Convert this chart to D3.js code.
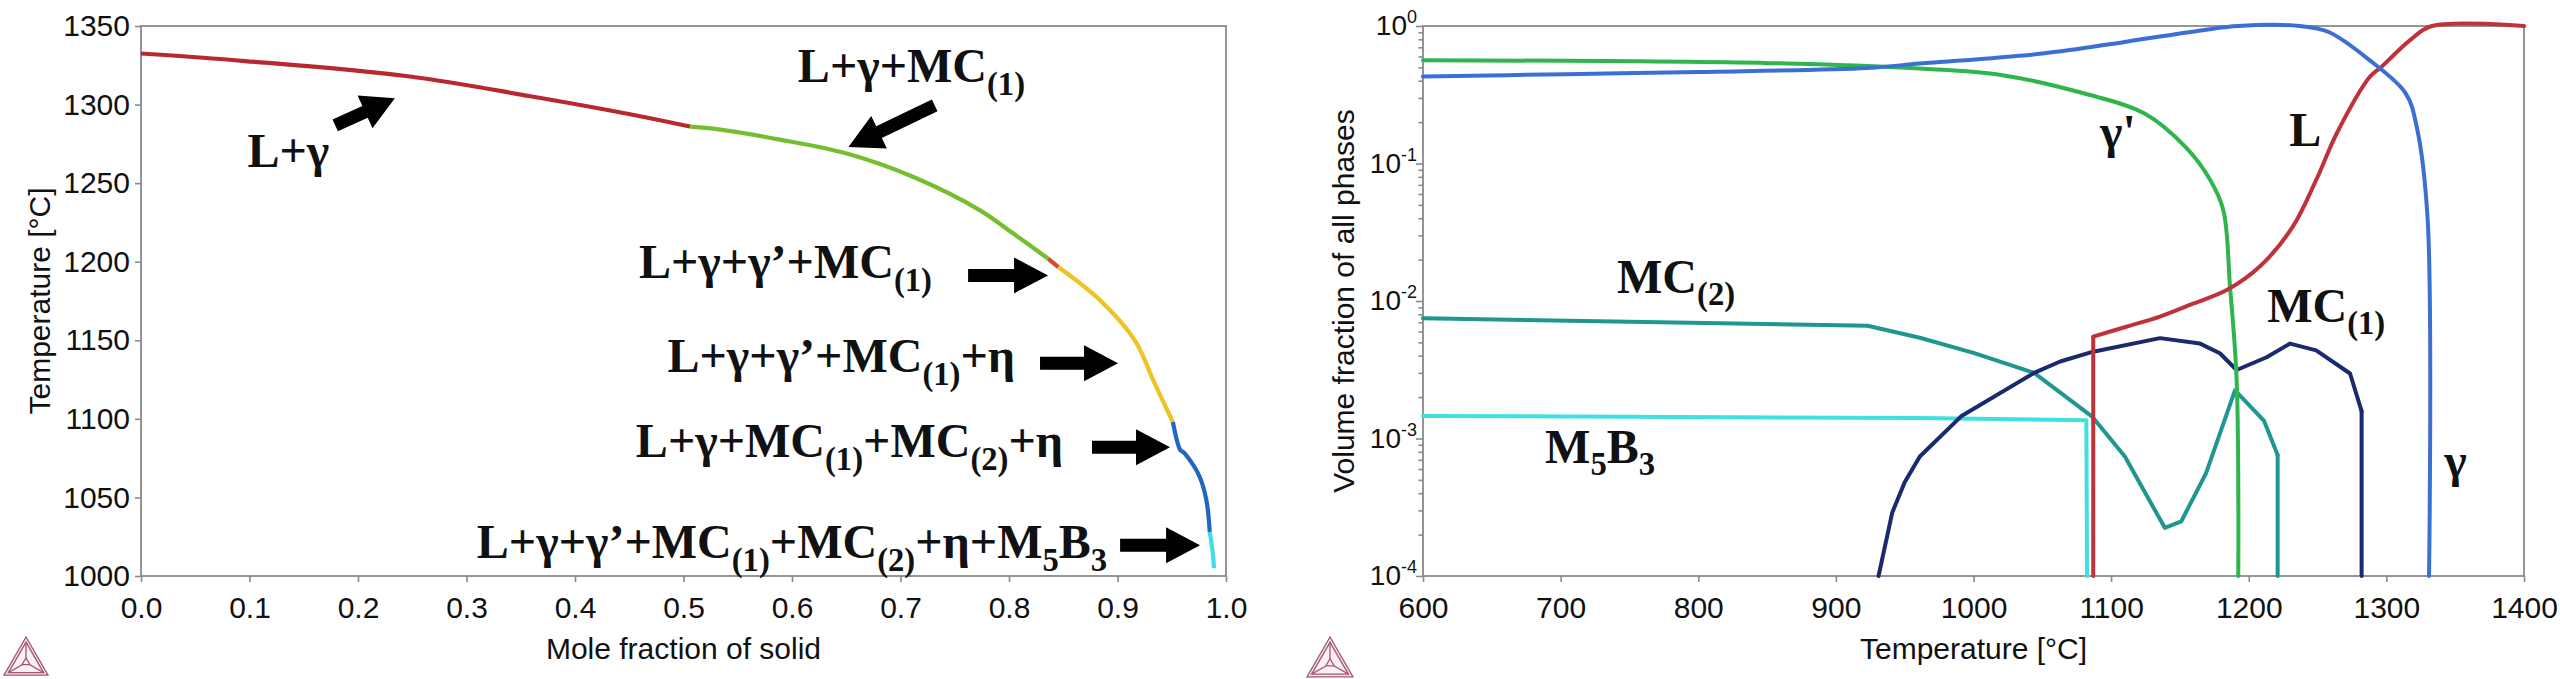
<!DOCTYPE html>
<html>
<head>
<meta charset="utf-8">
<script src="https://cdn.jsdelivr.net/npm/d3@7"></script>
<style>
  html, body { margin: 0; padding: 0; background: #fff; }
  svg { display: block; }
</style>
</head>
<body>
<div id="chart"></div>
<script>
// ---------- left panel: solidification path ----------
const pathRegions = ["L+γ", "L+γ+MC(1)", "L+γ+γ'+MC(1)", "L+γ+γ'+MC(1)+η", "L+γ+MC(1)+MC(2)+η", "L+γ+γ'+MC(1)+MC(2)+η+M5B3"];
const pathFs = [
    [0, 0.096, 0.246, 0.359, 0.46, 0.506],
    [0.506, 0.5276, 0.589, 0.6505, 0.7119, 0.7733, 0.804, 0.836],
    [0.836, 0.8455],
    [0.8455, 0.884, 0.916, 0.933, 0.943, 0.951],
    [0.951, 0.958, 0.9604, 0.968, 0.9758, 0.982, 0.985],
    [0.985, 0.9875, 0.989]
];
const pathT = [
    [1332.5, 1327.7, 1318, 1305.3, 1292.6, 1286],
    [1286, 1284.7, 1277.7, 1268.8, 1253.9, 1232.7, 1217.9, 1202],
    [1202, 1196.6],
    [1196.6, 1175.4, 1150, 1124.5, 1109.7, 1098],
    [1098, 1080, 1079, 1072.5, 1063, 1048, 1028],
    [1028, 1016.4, 1005]
];
const fsTicks = [0, 0.1, 0.2, 0.3, 0.4, 0.5, 0.6, 0.7, 0.8, 0.9, 1.0];
const tTicks = [1000, 1050, 1100, 1150, 1200, 1250, 1300, 1350];

// annotations (data units)
const regionLabels = ["L+γ", "L+γ+MC{(1)}", "L+γ+γ’+MC{(1)}", "L+γ+γ’+MC{(1)}+η", "L+γ+MC{(1)}+MC{(2)}+η", "L+γ+γ’+MC{(1)}+MC{(2)}+η+M{5}B{3}"];
const labelEndFs = [0.1735, 0.8148, 0.729, 0.8056, 0.8498, 0.8904];
const labelT = [1260.3, 1314.2, 1189.4, 1129.7, 1075.6, 1011.3];
const arrowFromFs = [0.179, 0.7315, 0.7623, 0.8286, 0.8765, 0.9024];
const arrowFromT = [1286.8, 1299.5, 1191.3, 1135.4, 1081.9, 1019.5];
const arrowToFs = [0.234, 0.652, 0.836, 0.9005, 0.9484, 0.9761];
const arrowToT = [1304, 1273, 1191.3, 1135.4, 1081.9, 1019.5];

// ---------- right panel: phase fractions ----------
const tempGamma = [600, 704, 800, 923, 961, 1050, 1110, 1169, 1192, 1237, 1258, 1288, 1314, 1322, 1330, 1331];
const fracGamma = [0.43, 0.446, 0.463, 0.495, 0.533, 0.63, 0.766, 0.94, 1.0, 1.0, 0.904, 0.562, 0.324, 0.186, 0.039, 0.0001];
const tempGammaP = [600, 852, 961, 1021, 1080, 1124, 1154, 1172, 1181.5, 1186.4, 1191.2, 1192.4];
const fracGammaP = [0.564, 0.537, 0.49, 0.439, 0.324, 0.232, 0.132, 0.0759, 0.0459, 0.0127, 0.00266, 0.0001];
const tempLiquid = [1087, 1087, 1111, 1135.5, 1160, 1184, 1208, 1232, 1249, 1264, 1288, 1296, 1317, 1333, 1400];
const fracLiquid = [0.0001, 0.0055, 0.0065, 0.0077, 0.0096, 0.012, 0.0178, 0.0347, 0.0759, 0.166, 0.427, 0.5, 0.787, 1.0, 1.0];
const tempMC2 = [600, 923, 961, 1000, 1044, 1086, 1110, 1139, 1151, 1169, 1190, 1211, 1221, 1221];
const fracMC2 = [0.0075, 0.0066, 0.0054, 0.0042, 0.003, 0.00145, 0.00074, 0.000224, 0.00025, 0.00056, 0.00224, 0.00135, 0.00076, 0.0001];
const tempMC1 = [931, 941, 950, 961, 991, 1044, 1063, 1087, 1135.5, 1164.6, 1179, 1191.2, 1213, 1230, 1249, 1273.6, 1282, 1282];
const fracMC1 = [0.0001, 0.00029, 0.00048, 0.00074, 0.00145, 0.003, 0.00363, 0.00428, 0.00537, 0.0049, 0.00417, 0.00315, 0.0039, 0.0049, 0.00437, 0.00297, 0.00158, 0.0001];
const tempM5B3 = [600, 961, 1082, 1082.5];
const fracM5B3 = [0.00146, 0.00141, 0.00136, 0.0001];
const tempTicks = [600, 700, 800, 900, 1000, 1100, 1200, 1300, 1400];
const decadeExp = [-4, -3, -2, -1, 0];

const phaseLabels = ["γ'", "L", "MC{(1)}", "γ", "MC{(2)}", "M{5}B{3}"];
const phaseLabelT = [1092, 1229.4, 1213.4, 1342, 741, 688.7];
const phaseLabelF = [0.129, 0.134, 0.00706, 0.000527, 0.0114, 0.000664];

// ---------- drawing ----------
const W = 2560, H = 679;
const sans = "'Liberation Sans', Arial, sans-serif";
const serif = "'Liberation Serif', 'Times New Roman', serif";
const frameColor = "#8a8a8a";

const svg = d3.select("#chart").append("svg")
    .attr("width", W)
    .attr("height", H)
    .style("background", "#fff");

const xL = d3.scaleLinear().domain([0, 1]).range([141, 1226]);
const yL = d3.scaleLinear().domain([1000, 1350]).range([576, 26]);
const xR = d3.scaleLinear().domain([600, 1400]).range([1423, 2524]);
const yR = d3.scaleLog().domain([1e-4, 1]).range([576, 26]);

function styleAxis(g) {
    g.select(".domain").remove();
    g.selectAll(".tick line").attr("stroke", frameColor).attr("stroke-width", 1.6);
    g.selectAll(".tick text").attr("fill", "#111").style("font-family", sans).style("font-size", "30px");
}

function frame(x, y) {
    svg.append("rect")
        .attr("x", x.range()[0]).attr("y", y.range()[1])
        .attr("width", x.range()[1] - x.range()[0])
        .attr("height", y.range()[0] - y.range()[1])
        .attr("fill", "none")
        .attr("stroke", frameColor)
        .attr("stroke-width", 1.8);
}

// rich text: {..} marks subscript
function richText(g, str, size, subShift) {
    const parts = str.split(/(\{[^}]*\})/).filter(s => s.length);
    let shifted = false;
    parts.forEach(p => {
        const isSub = p[0] === "{";
        const t = g.append("tspan").text(isSub ? p.slice(1, -1) : p);
        if (isSub) {
            t.attr("font-size", size * 0.68).attr("dy", shifted ? 0 : subShift);
            shifted = true;
        } else {
            if (shifted) t.attr("dy", -subShift);
            shifted = false;
        }
    });
}

function blockArrow(p1, p2) {
    const dx = p2[0] - p1[0], dy = p2[1] - p1[1];
    const len = Math.hypot(dx, dy);
    const hl = Math.min(34, len * 0.5), sw = 6.5, hw = 18;
    const pts = [[0, -sw], [len - hl, -sw], [len - hl, -hw], [len, 0], [len - hl, hw], [len - hl, sw], [0, sw]];
    const ang = Math.atan2(dy, dx) * 180 / Math.PI;
    svg.append("polygon")
        .attr("points", pts.map(p => p.join(",")).join(" "))
        .attr("transform", `translate(${p1[0]},${p1[1]}) rotate(${ang})`)
        .attr("fill", "#000");
}

function logo(cx, top, s) {
    const g = svg.append("g").attr("fill", "none").attr("stroke", "#a25873").attr("stroke-width", 1.3);
    const h = s * Math.sqrt(3) / 2;
    const A = [cx, top], B = [cx - s / 2, top + h], C = [cx + s / 2, top + h];
    const cy = top + h * 2 / 3;
    const shrink = (p, k) => [cx + (p[0] - cx) * k, cy + (p[1] - cy) * k];
    const tri = (pts) => "M" + pts.map(p => p.join(",")).join("L") + "Z";
    g.append("path").attr("d", tri([A, B, C])).attr("fill", "#f4e3ea");
    const inner = [A, B, C].map(p => shrink(p, 0.8));
    g.append("path").attr("d", tri(inner)).attr("fill", "#fbf1f5");
    const core = [A, B, C].map(p => shrink(p, 0.18));
    g.append("path").attr("d", tri(core));
    inner.forEach((p, i) => g.append("line")
        .attr("x1", core[i][0]).attr("y1", core[i][1])
        .attr("x2", p[0]).attr("y2", p[1]));
}

// split a series so that vertical drops (same x twice) stay straight
function pieces(pts) {
    const out = [];
    let cur = [pts[0]];
    for (let j = 1; j < pts.length; j++) {
        if (pts[j][0] === pts[j - 1][0]) {
            if (cur.length > 1) out.push({ pts: cur, straight: false });
            out.push({ pts: [pts[j - 1], pts[j]], straight: true });
            cur = [pts[j]];
        } else {
            cur.push(pts[j]);
        }
    }
    if (cur.length > 1) out.push({ pts: cur, straight: false });
    return out;
}

// ----- left panel -----
frame(xL, yL);

svg.append("g")
    .attr("transform", "translate(0,576)")
    .call(d3.axisBottom(xL).tickValues(fsTicks).tickFormat(d3.format(".1f")).tickSize(6).tickPadding(15))
    .call(styleAxis);

svg.append("g")
    .attr("transform", "translate(141,0)")
    .call(d3.axisLeft(yL).tickValues(tTicks).tickFormat(d3.format("d")).tickSize(6).tickPadding(5))
    .call(styleAxis);

svg.append("text")
    .attr("x", (xL.range()[0] + xL.range()[1]) / 2).attr("y", 659)
    .attr("text-anchor", "middle")
    .style("font-family", sans).style("font-size", "30px").attr("fill", "#111")
    .text("Mole fraction of solid");

svg.append("text")
    .attr("transform", `translate(50,${(yL.range()[0] + yL.range()[1]) / 2}) rotate(-90)`)
    .attr("text-anchor", "middle")
    .style("font-family", sans).style("font-size", "30px").attr("fill", "#111")
    .text("Temperature [°C]");

const pathColors = ["#b8282f", "#75bf2f", "#d8482a", "#f0c324", "#2166c0", "#3fdde8"];
const lineL = d3.line().x(d => xL(d[0])).y(d => yL(d[1])).curve(d3.curveCatmullRom.alpha(0.5));

pathRegions.forEach((name, i) => {
    const pts = pathFs[i].map((f, j) => [f, pathT[i][j]]);
    svg.append("path")
        .datum(pts)
        .attr("d", lineL)
        .attr("fill", "none")
        .attr("stroke", pathColors[i])
        .attr("stroke-width", 4.2)
        .attr("stroke-linecap", "butt");
});

regionLabels.forEach((lab, i) => {
    const t = svg.append("text")
        .attr("x", xL(labelEndFs[i]))
        .attr("y", yL(labelT[i]))
        .attr("text-anchor", "end")
        .style("font-family", serif)
        .style("font-weight", "bold")
        .attr("font-size", 48)
        .attr("fill", "#111");
    richText(t, lab, 48, 13);
    blockArrow([xL(arrowFromFs[i]), yL(arrowFromT[i])], [xL(arrowToFs[i]), yL(arrowToT[i])]);
});

logo(26, 637, 44);

// ----- right panel -----
frame(xR, yR);

svg.append("g")
    .attr("transform", "translate(0,576)")
    .call(d3.axisBottom(xR).tickValues(tempTicks).tickFormat(d3.format("d")).tickSize(6).tickPadding(15))
    .call(styleAxis);

const decades = decadeExp.map(e => Math.pow(10, e));
const minors = [];
decadeExp.slice(0, -1).forEach(e => {
    for (let k = 2; k <= 9; k++) minors.push(k * Math.pow(10, e));
});

svg.append("g")
    .attr("transform", "translate(1423,0)")
    .call(d3.axisLeft(yR).tickValues(decades).tickFormat("").tickSize(7))
    .call(styleAxis);

svg.append("g")
    .attr("transform", "translate(1423,0)")
    .call(d3.axisLeft(yR).tickValues(minors).tickFormat("").tickSize(4.5))
    .call(styleAxis);

decadeExp.forEach(e => {
    const t = svg.append("text")
        .attr("x", 1417)
        .attr("y", yR(Math.pow(10, e)) + 9)
        .attr("text-anchor", "end")
        .style("font-family", sans)
        .attr("fill", "#111");
    t.append("tspan").attr("font-size", 28).text("10");
    t.append("tspan").attr("font-size", 18).attr("dy", -12).text(String(e));
});

svg.append("text")
    .attr("x", (xR.range()[0] + xR.range()[1]) / 2).attr("y", 659)
    .attr("text-anchor", "middle")
    .style("font-family", sans).style("font-size", "30px").attr("fill", "#111")
    .text("Temperature [°C]");

svg.append("text")
    .attr("transform", `translate(1354,${(yR.range()[0] + yR.range()[1]) / 2}) rotate(-90)`)
    .attr("text-anchor", "middle")
    .style("font-family", sans).style("font-size", "30px").attr("fill", "#111")
    .text("Volume fraction of all phases");

const smooth = d3.curveCatmullRom.alpha(0.5);
const phaseSeries = [
    { t: tempM5B3, f: fracM5B3, color: "#3fe0de", curve: d3.curveLinear },
    { t: tempMC2, f: fracMC2, color: "#1f968f", curve: d3.curveLinear },
    { t: tempMC1, f: fracMC1, color: "#1b2a6e", curve: d3.curveLinear },
    { t: tempGammaP, f: fracGammaP, color: "#2fb54b", curve: smooth },
    { t: tempLiquid, f: fracLiquid, color: "#c0323a", curve: smooth },
    { t: tempGamma, f: fracGamma, color: "#3c6fd4", curve: smooth }
];

phaseSeries.forEach(s => {
    const pts = s.t.map((t, j) => [t, s.f[j]]);
    pieces(pts).forEach(pc => {
        svg.append("path")
            .datum(pc.pts)
            .attr("d", d3.line().x(d => xR(d[0])).y(d => yR(d[1])).curve(pc.straight ? d3.curveLinear : s.curve))
            .attr("fill", "none")
            .attr("stroke", s.color)
            .attr("stroke-width", 4)
            .attr("stroke-linecap", "round")
            .attr("stroke-linejoin", "round");
    });
});

phaseLabels.forEach((lab, i) => {
    const t = svg.append("text")
        .attr("x", xR(phaseLabelT[i]))
        .attr("y", yR(phaseLabelF[i]))
        .style("font-family", serif)
        .style("font-weight", "bold")
        .attr("font-size", 48)
        .attr("fill", "#111");
    richText(t, lab, 48, 12);
});

logo(1330, 637, 46);
</script>
</body>
</html>
